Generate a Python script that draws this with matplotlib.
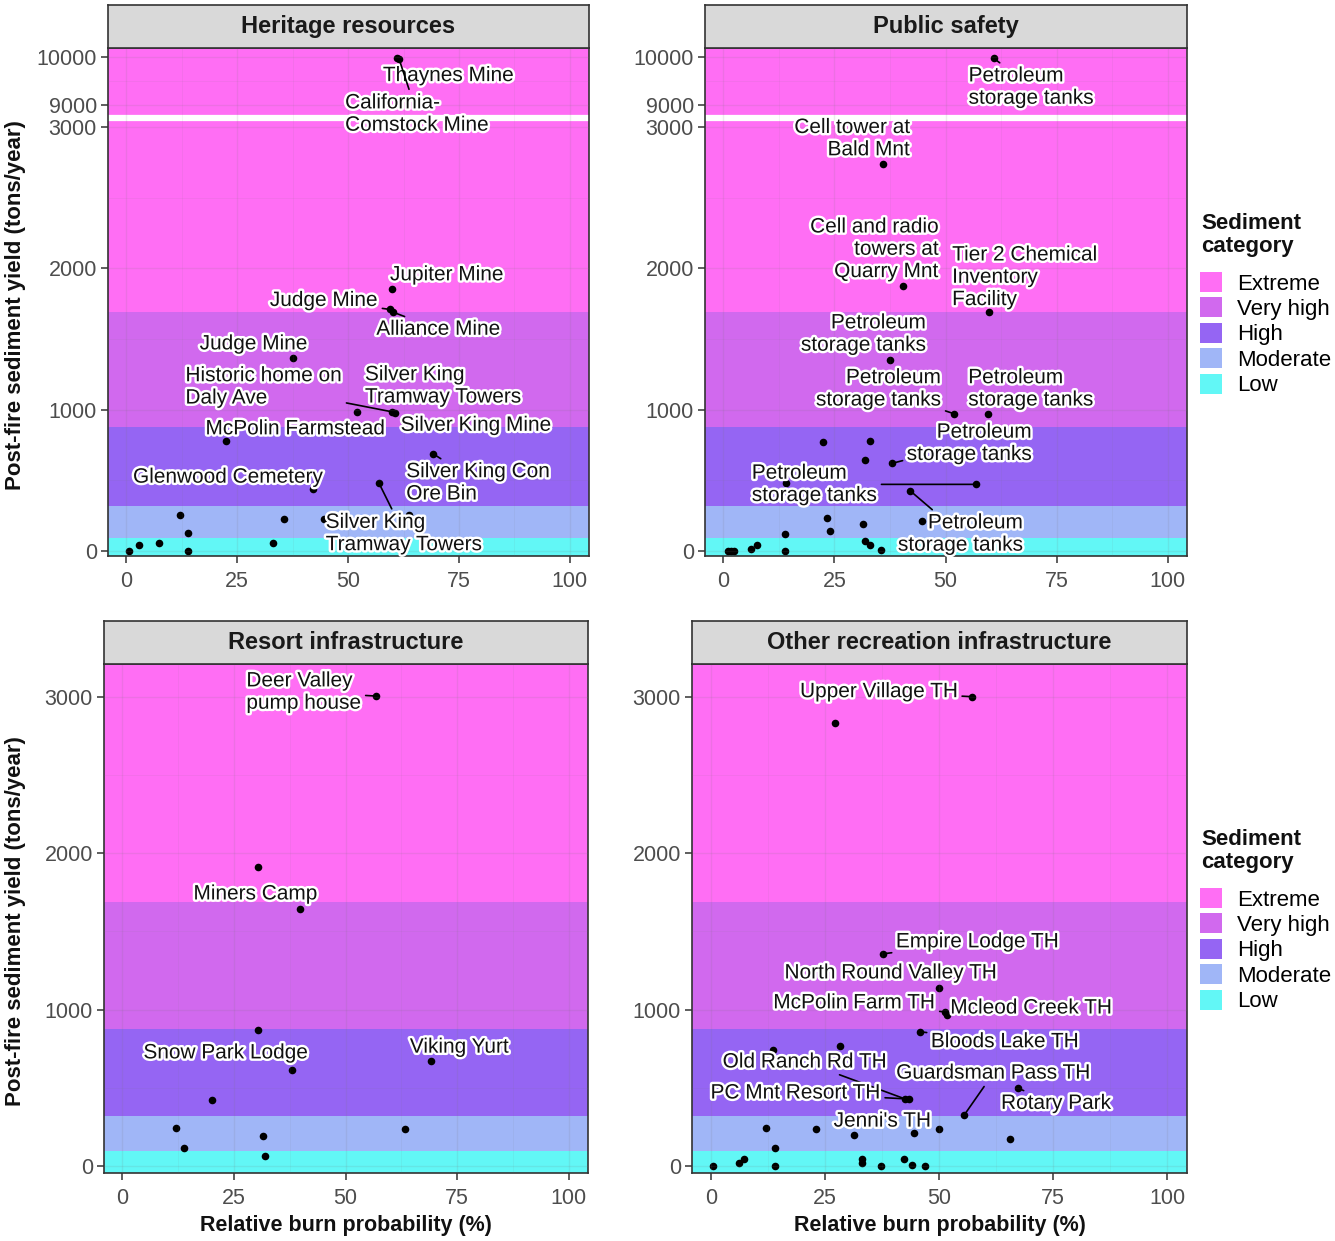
import matplotlib
matplotlib.use('Agg')
import matplotlib.pyplot as plt
import matplotlib.patheffects as pe
from matplotlib.patches import Patch
import numpy as np

plt.rcParams['font.family'] = ['Liberation Sans', 'DejaVu Sans']

# Sediment categories (tons/year thresholds between bands)
categories = ['Extreme', 'Very high', 'High', 'Moderate', 'Low']
cat_colors = ['#FF6EF4', '#D169EE', '#9565F3', '#A0B6F7', '#62F7F6']
thresholds = [95, 320, 875, 1690]

x_ticks = [0, 25, 50, 75, 100]
top_y_ticks = [0, 1000, 2000, 3000, 9000, 10000]
bottom_y_ticks = [0, 1000, 2000, 3000]

# Heritage resources
heritage_x = [61.0, 61.5, 59.9, 59.5, 60.2, 37.6, 52.0, 60.0, 60.5, 22.6, 69.2, 42.1, 56.9,
              63.8, 12.1, 35.6, 44.5, 13.9, 7.3, 2.8, 0.6, 13.9, 33.1]
heritage_y = [9990, 9960, 1856, 1710, 1690, 1367, 985, 985, 975, 780, 688, 438, 485,
              255, 255, 225, 225, 130, 59, 43, 2, 2, 59]
heritage_names = ['Thaynes Mine', 'California-\nComstock Mine', 'Jupiter Mine', 'Judge Mine',
                  'Alliance Mine', 'Judge Mine', 'Silver King\nTramway Towers',
                  'Historic home on\nDaly Ave', 'Silver King Mine', 'McPolin Farmstead',
                  'Silver King Con\nOre Bin', 'Glenwood Cemetery', 'Silver King\nTramway Towers',
                  '', '', '', '', '', '', '', '', '', '']

# Public safety
safety_x = [60.8, 36.0, 40.4, 59.8, 37.6, 52.0, 59.6, 38.0, 56.8, 42.1,
            14.2, 44.8, 22.5, 32.9, 31.8, 23.3, 24.1, 31.5, 14.0, 14.0, 31.8, 33.1,
            35.4, 6.2, 7.5, 1.0, 1.7, 2.5]
safety_y = [9980, 2742, 1874, 1690, 1352, 971, 971, 621, 472, 425,
            479, 213, 770, 780, 645, 236, 141, 191, 118, 0, 71, 42,
            11, 18, 42, 0, 0, 0]
safety_names = ['Petroleum\nstorage tanks', 'Cell tower at\nBald Mnt',
                'Cell and radio\ntowers at\nQuarry Mnt', 'Tier 2 Chemical\nInventory\nFacility',
                'Petroleum\nstorage tanks', 'Petroleum\nstorage tanks', 'Petroleum\nstorage tanks',
                'Petroleum\nstorage tanks', 'Petroleum\nstorage tanks', 'Petroleum\nstorage tanks',
                '', '', '', '', '', '', '', '', '', '', '', '', '', '', '', '', '', '']

# Resort infrastructure
resort_x = [56.9, 39.9, 38.1, 69.1, 30.5, 30.3, 20.2, 12.1, 63.4, 31.4, 13.9, 32.0]
resort_y = [3004, 1643, 614, 670, 1911, 867, 420, 243, 235, 192, 114, 63]
resort_names = ['Deer Valley\npump house', 'Miners Camp', 'Snow Park Lodge', 'Viking Yurt',
                '', '', '', '', '', '', '', '']

# Other recreation infrastructure
recreation_x = [57.2, 37.7, 50.1, 51.2, 51.8, 45.8, 42.6, 43.4, 55.5, 67.3, 44.6,
                27.3, 13.7, 28.4, 12.2, 23.0, 31.3, 50.1, 65.6, 14.0, 0.6, 6.2, 7.3,
                14.0, 33.2, 33.2, 37.2, 42.3, 44.1, 46.9]
recreation_y = [3000, 1356, 1138, 985, 965, 858, 428, 428, 325, 496, 210,
                2834, 740, 765, 244, 239, 195, 239, 173, 117, 0, 20, 44,
                0, 44, 20, 0, 44, 7, 0]
recreation_names = ['Upper Village TH', 'Empire Lodge TH', 'North Round Valley TH',
                    'McPolin Farm TH', 'Mcleod Creek TH', 'Bloods Lake TH', 'Old Ranch Rd TH',
                    'PC Mnt Resort TH', 'Guardsman Pass TH', 'Rotary Park', "Jenni's TH",
                    '', '', '', '', '', '', '', '', '', '', '', '', '', '', '', '', '', '', '']

# label placement (pixel offsets from point: dx right, dy down; anchor side; draw segment)
heritage_layout = [(-14, 18, 'left', False), (-54, 55, 'left', True), (-2, -14, 'left', False),
                   (-12, -9, 'right', True), (-17, 17, 'left', True), (15, -14, 'right', False),
                   (8, -26, 'left', False), (-207, -25, 'left', True), (6, 12, 'left', False),
                   (-21, -12, 'left', False), (-27, 29, 'left', True), (-180, -12, 'left', False),
                   (-53, 51, 'left', True)]
safety_layout = [(-25, 29, 'left', True), (27, -25, 'right', False), (36, -37, 'right', False),
                 (-37, -35, 'left', False), (36, -26, 'right', False), (-13, -25, 'right', True),
                 (-20, -25, 'left', False), (140, -20, 'right', True), (-224, 0, 'left', True),
                 (113, 43, 'right', True)]
resort_layout = [(-130, -4, 'left', True), (-107, -15, 'left', False),
                 (-149, -17, 'left', False), (-21, -14, 'left', False)]
recreation_layout = [(-14, -5, 'right', True), (13, -12, 'left', True), (-155, -15, 'left', False),
                     (-9, -9, 'right', True), (3, -7, 'left', False), (11, 10, 'left', True),
                     (-18, -37, 'right', True), (-28, -6, 'right', True), (-68, -42, 'left', True),
                     (-17, 15, 'left', True), (17, -12, 'right', False)]

# broken y axis for the top row: 3000 -> 9000 squeezed, above 9000 compressed
GAP = 156.0
K = 0.34


def fwd(y):
    y = np.asarray(y, dtype=float)
    return np.where(y <= 3000, y,
                    np.where(y < 9000, 3000 + (y - 3000) * GAP / 6000,
                             3000 + GAP + (y - 9000) * K))


def inv(t):
    t = np.asarray(t, dtype=float)
    return np.where(t <= 3000, t,
                    np.where(t < 3000 + GAP, 3000 + (t - 3000) * 6000 / GAP,
                             9000 + (t - 3000 - GAP) / K))


W, H = 1335, 1241
fig = plt.figure(figsize=(W / 100, H / 100), dpi=100)


def px_axes(left, top, right, bottom):
    return fig.add_axes([left / W, 1 - bottom / H, (right - left) / W, (bottom - top) / H])


def panel(box, strip_top, title, xs, ys, names, layout, broken, xlabel):
    left, top, right, bottom = box
    ax = px_axes(left, top, right, bottom)
    if broken:
        ax.set_yscale('function', functions=(fwd, inv))
        ax.set_ylim(-35, 10190)
        ax.set_yticks(top_y_ticks)
        ax.set_yticks([500, 1500, 2500, 9500], minor=True)
    else:
        ax.set_ylim(-45, 3209)
        ax.set_yticks(bottom_y_ticks)
        ax.set_yticks([500, 1500, 2500], minor=True)
    ax.set_xlim(-4.1, 104.3)
    ax.set_xticks(x_ticks)
    ax.set_xticks([12.5, 37.5, 62.5, 87.5], minor=True)

    edges = [20000] + thresholds[::-1] + [-5000]
    for i, c in enumerate(cat_colors):
        ax.axhspan(edges[i + 1], edges[i], color=c, lw=0, zorder=0)
    ax.grid(True, which='major', color='#777777', alpha=0.13, lw=1.0, zorder=0.5)
    ax.grid(True, which='minor', color='#777777', alpha=0.08, lw=0.7, zorder=0.5)
    ax.set_axisbelow(False)
    if broken:
        ax.axhline(5460, color='white', lw=4.5, zorder=1.5)

    ax.scatter(xs, ys, s=30, color='black', zorder=2, lw=0)

    j = 0
    for x, y, name in zip(xs, ys, names):
        if not name:
            continue
        dx, dy, ha, seg = layout[j]
        j += 1
        ap = dict(arrowstyle='-', color='black', lw=1.2, shrinkA=1, shrinkB=2) if seg else None
        ax.annotate(name, (x, y), xytext=(dx, -dy), textcoords='offset pixels',
                    ha=ha, va='center', multialignment=ha, fontsize=15, color='#111111',
                    linespacing=1.22, zorder=3, arrowprops=ap, annotation_clip=False,
                    path_effects=[pe.withStroke(linewidth=3.5, foreground='white')])

    for s in ax.spines.values():
        s.set_color('#333333')
        s.set_linewidth(1.2)
    ax.tick_params(which='major', direction='out', length=5, width=1.1, color='#333333',
                   labelcolor='#4D4D4D', labelsize=15.5, pad=3)
    ax.tick_params(axis='x', which='major', pad=6)
    ax.tick_params(which='minor', length=0)
    if xlabel:
        ax.set_xlabel('Relative burn probability (%)', fontsize=15.5, fontweight='bold',
                      color='#111111', labelpad=4)

    st = px_axes(left, strip_top, right, top)
    st.set_facecolor('#D9D9D9')
    st.set_xticks([])
    st.set_yticks([])
    for s in st.spines.values():
        s.set_color('#333333')
        s.set_linewidth(1.2)
    st.text(0.5, 0.5, title, ha='center', va='center', fontsize=17, fontweight='bold',
            color='#1A1A1A', transform=st.transAxes)
    return ax


panel((108, 48, 589, 556), 5, 'Heritage resources', heritage_x, heritage_y,
      heritage_names, heritage_layout, True, False)
panel((705, 48, 1187, 556), 5, 'Public safety', safety_x, safety_y,
      safety_names, safety_layout, True, False)
panel((104, 664, 588, 1173), 621, 'Resort infrastructure', resort_x, resort_y,
      resort_names, resort_layout, False, True)
panel((692, 664, 1187, 1173), 621, 'Other recreation infrastructure', recreation_x, recreation_y,
      recreation_names, recreation_layout, False, True)

ylab = 'Post-fire sediment yield (tons/year)'
fig.text(16 / W, 1 - 305 / H, ylab, rotation=90, ha='center', va='center',
         fontsize=16, fontweight='bold', color='#111111')
fig.text(16 / W, 1 - 921 / H, ylab, rotation=90, ha='center', va='center',
         fontsize=16, fontweight='bold', color='#111111')

handles = [Patch(facecolor=c, edgecolor='none') for c in cat_colors]
for title_px, keys_px in ((235, 272), (851, 888)):
    fig.text(1201 / W, 1 - title_px / H, 'Sediment\ncategory', ha='left', va='center',
             fontsize=16, fontweight='bold', color='#111111', linespacing=1.1)
    fig.legend(handles, categories, loc='upper left',
               bbox_to_anchor=(1200 / W, 1 - keys_px / H), frameon=False,
               fontsize=16, handlelength=1.0, handleheight=1.0, handletextpad=0.65,
               labelspacing=0.13, borderpad=0, borderaxespad=0)

fig.savefig('out.png', dpi=100)
